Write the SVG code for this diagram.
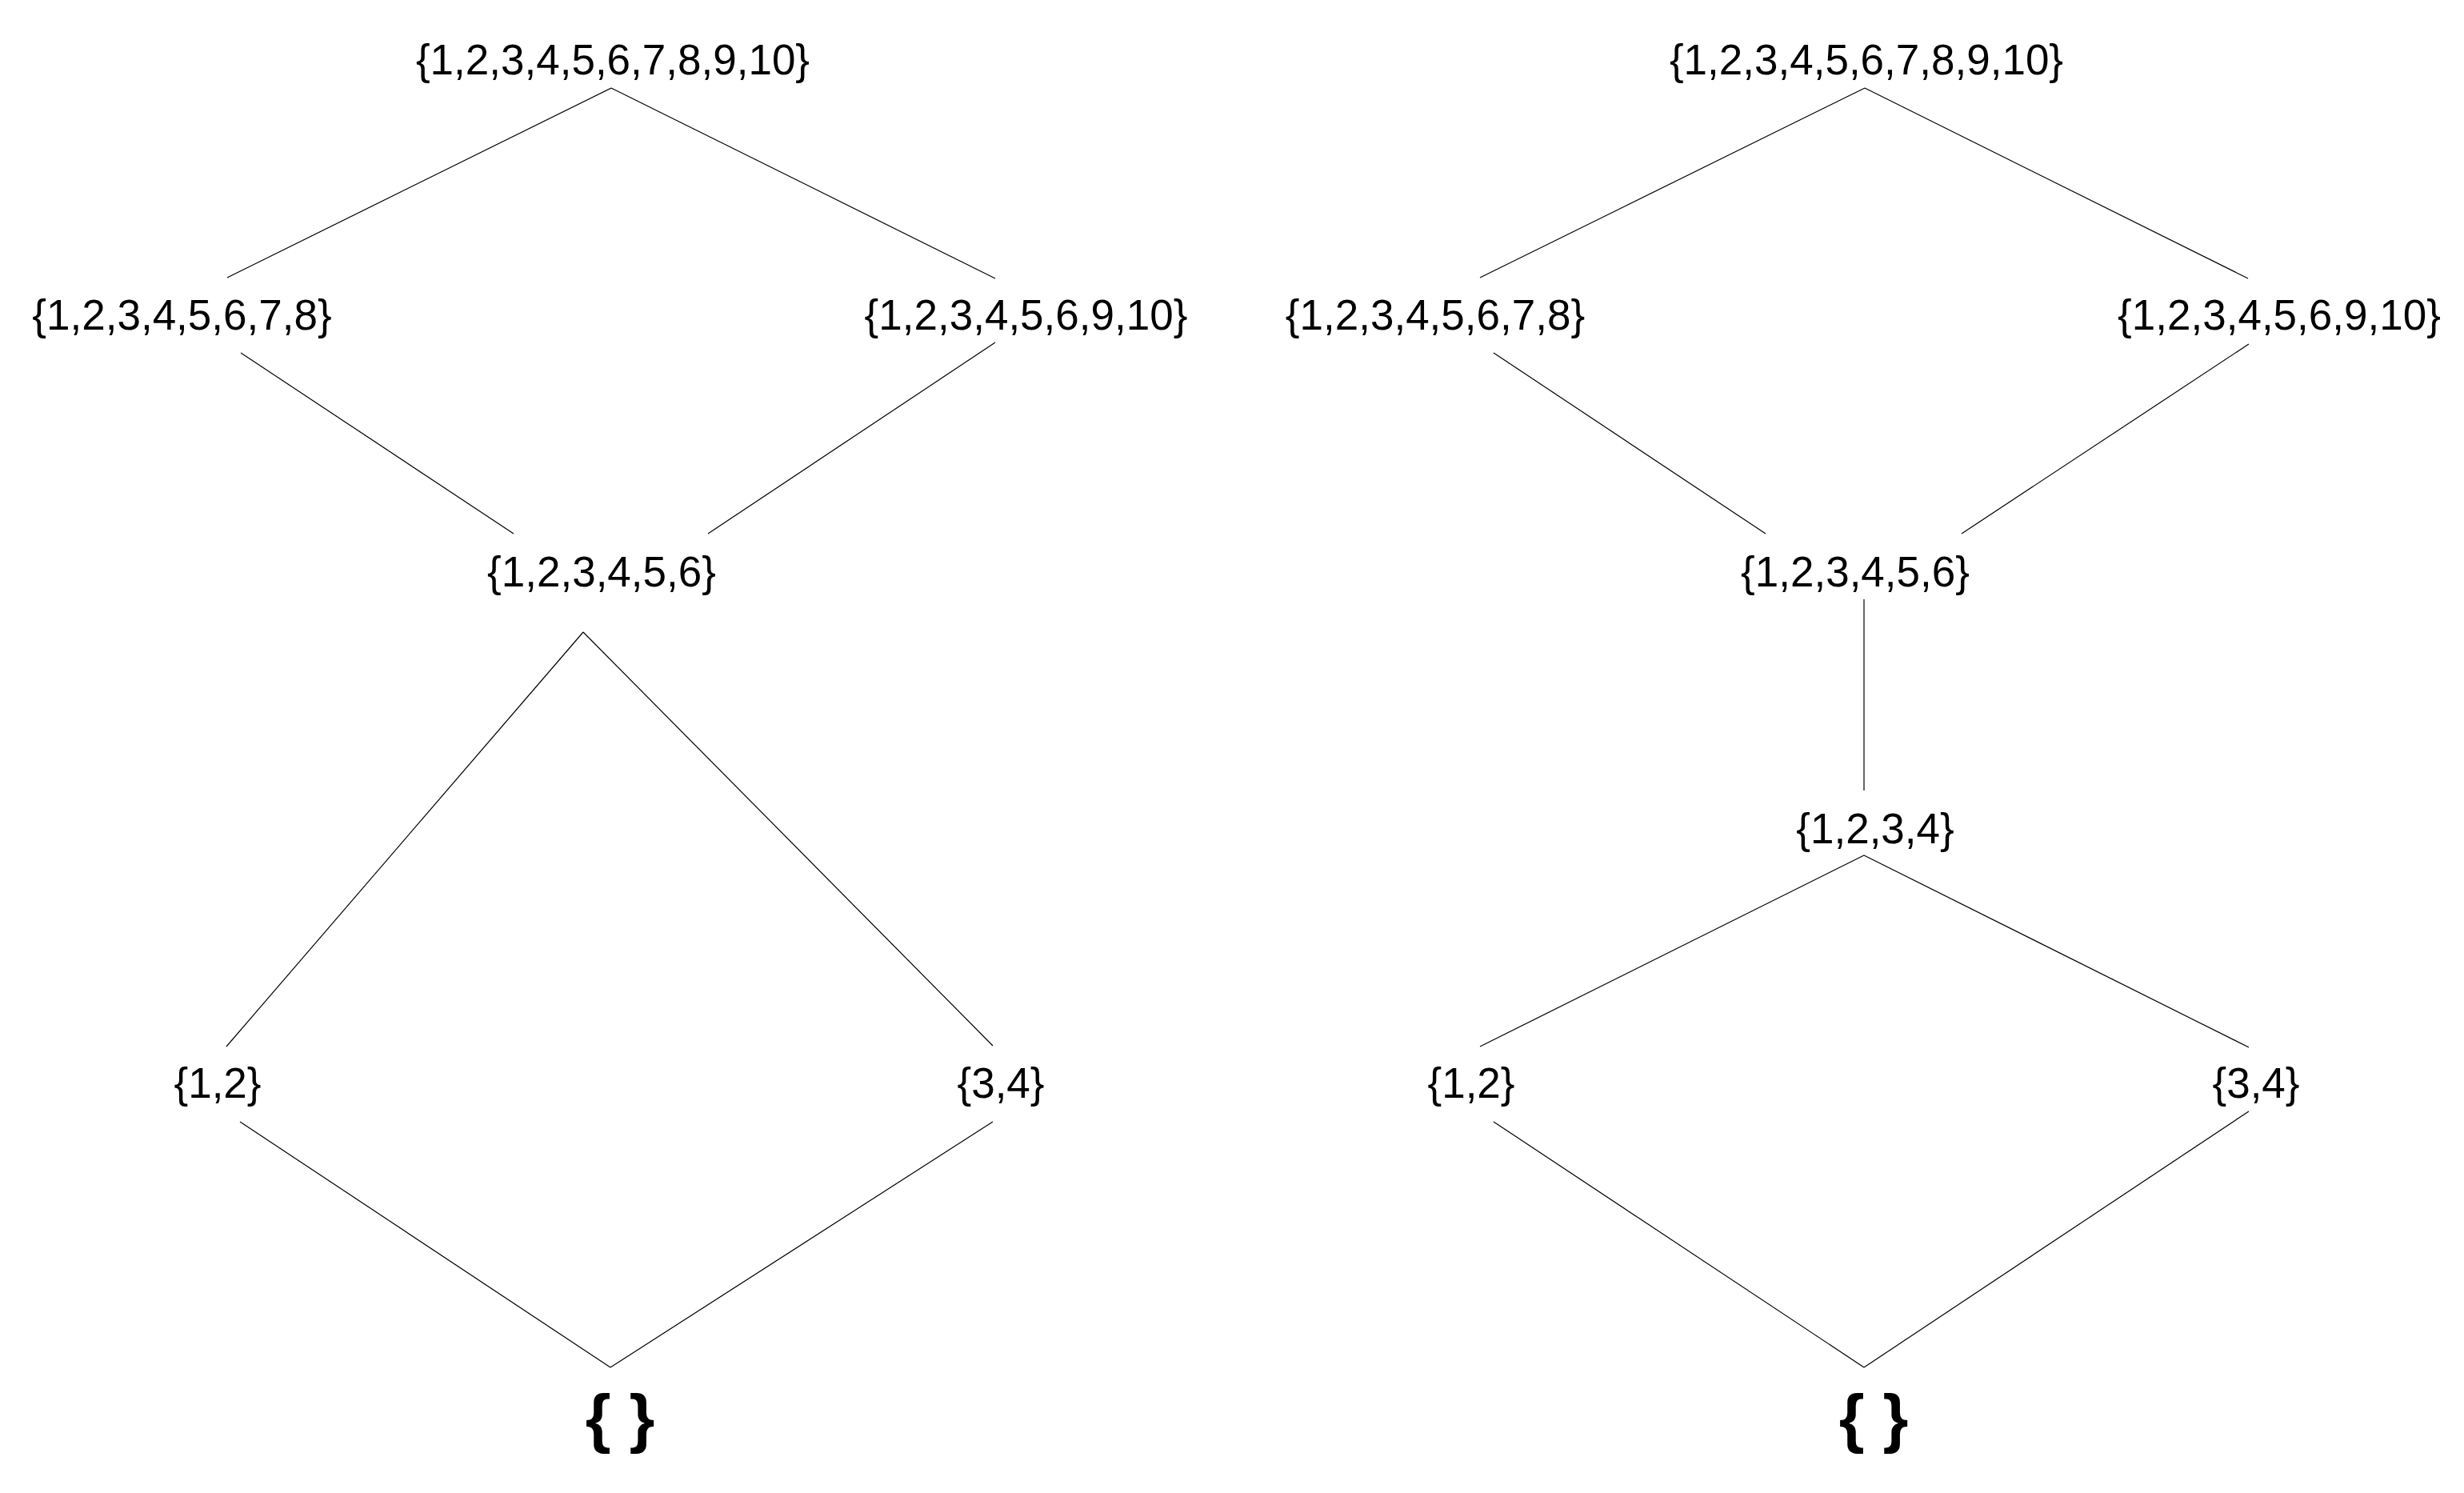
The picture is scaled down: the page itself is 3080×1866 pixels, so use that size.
<svg xmlns="http://www.w3.org/2000/svg" width="3080" height="1866" viewBox="0 0 3080 1866">
<style>
.t{font-family:"Liberation Sans",Arial,sans-serif;font-size:53px;fill:#000;text-anchor:middle}
.e{font-family:"Liberation Sans",Arial,sans-serif;font-size:82px;font-weight:bold;fill:#000;text-anchor:middle}
.c line{stroke:#000;stroke-width:1.2}
</style>
<rect width="3080" height="1866" fill="#fff"/>
<g class="c" id="connectors">
<line x1="764" y1="110" x2="284" y2="347"/>
<line x1="764" y1="110" x2="1244" y2="348"/>
<line x1="301" y1="441" x2="642" y2="667"/>
<line x1="1244" y1="428" x2="885" y2="667"/>
<line x1="729" y1="790" x2="283" y2="1308"/>
<line x1="729" y1="790" x2="1241" y2="1307"/>
<line x1="300" y1="1402" x2="763" y2="1709"/>
<line x1="1241" y1="1402" x2="763" y2="1709"/>
<line x1="2331" y1="110" x2="1850" y2="347"/>
<line x1="2331" y1="110" x2="2810" y2="348"/>
<line x1="1867" y1="441" x2="2207" y2="667"/>
<line x1="2811" y1="430" x2="2452" y2="667"/>
<line x1="2330" y1="749" x2="2330" y2="988"/>
<line x1="2330" y1="1069" x2="1850" y2="1308"/>
<line x1="2330" y1="1069" x2="2811" y2="1309"/>
<line x1="1867" y1="1402" x2="2330" y2="1709"/>
<line x1="2811" y1="1389" x2="2330" y2="1709"/>
</g>
<g id="L_top"><text class="t" x="766" y="93">{1,2,3,4,5,6,7,8,9,10}</text></g>
<g id="L_18"><text class="t" x="227.5" y="412">{1,2,3,4,5,6,7,8}</text></g>
<g id="L_1610"><text class="t" x="1282.5" y="412">{1,2,3,4,5,6,9,10}</text></g>
<g id="L_16"><text class="t" x="752" y="733">{1,2,3,4,5,6}</text></g>
<g id="L_12"><text class="t" x="272" y="1372">{1,2}</text></g>
<g id="L_34"><text class="t" x="1251" y="1372">{3,4}</text></g>
<g id="L_empty"><text class="e" x="775" y="1800">{ }</text></g>
<g id="R_top"><text class="t" x="2333" y="93">{1,2,3,4,5,6,7,8,9,10}</text></g>
<g id="R_18"><text class="t" x="1794" y="412">{1,2,3,4,5,6,7,8}</text></g>
<g id="R_1610"><text class="t" x="2849" y="412">{1,2,3,4,5,6,9,10}</text></g>
<g id="R_16"><text class="t" x="2319" y="733">{1,2,3,4,5,6}</text></g>
<g id="R_14"><text class="t" x="2344" y="1054">{1,2,3,4}</text></g>
<g id="R_12"><text class="t" x="1839" y="1372">{1,2}</text></g>
<g id="R_34"><text class="t" x="2820" y="1372">{3,4}</text></g>
<g id="R_empty"><text class="e" x="2342" y="1800">{ }</text></g>
</svg>
